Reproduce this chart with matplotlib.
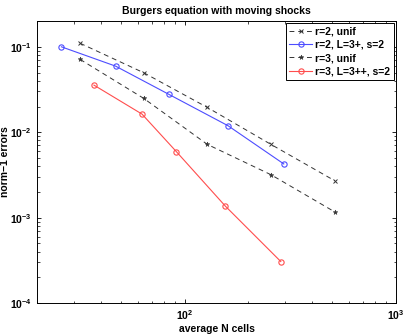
import matplotlib
matplotlib.use('Agg')
import matplotlib.pyplot as plt
import numpy as np

plt.rcParams['font.family'] = ['Liberation Sans', 'DejaVu Sans']
plt.rcParams['font.weight'] = 'bold'
plt.rcParams['mathtext.default'] = 'regular'

# Data
n_unif = [32, 64, 128, 256, 512]
err_r2_unif = [0.11, 0.0497, 0.0195, 0.0072, 0.00271]
err_r3_unif = [0.0712, 0.0249, 0.0072, 0.00318, 0.00117]

n_r2_amr = [26.1, 47.1, 84.3, 160.5, 294.5]
err_r2_amr = [0.1, 0.0594, 0.0277, 0.0119, 0.00425]

n_r3_amr = [37.2, 62.8, 91.4, 155.9, 285]
err_r3_amr = [0.0356, 0.0163, 0.00591, 0.00136, 0.000306]

labels = ['r=2, unif', 'r=2, L=3+, s=2', 'r=3, unif', 'r=3, L=3++, s=2']

fig = plt.figure(figsize=(4.07, 3.34), dpi=100)
ax = fig.add_axes([0.0909, 0.0928, 0.882, 0.844])

ax.loglog(n_unif, err_r2_unif, color='#333333', linestyle=(0, (5, 4)), linewidth=0.7,
          marker='x', markersize=3, markeredgewidth=0.7, label=labels[0])
ax.loglog(n_r2_amr, err_r2_amr, color='#4d4dff', linestyle='-', linewidth=0.8,
          marker='o', markersize=3.8, markerfacecolor='none', markeredgewidth=0.8, label=labels[1])
ax.loglog(n_unif, err_r3_unif, color='#333333', linestyle=(0, (5, 4)), linewidth=0.7,
          marker='*', markersize=3.5, markeredgewidth=0.4, label=labels[2])
ax.loglog(n_r3_amr, err_r3_amr, color='#ff4d4d', linestyle='-', linewidth=0.8,
          marker='o', markersize=3.8, markerfacecolor='none', markeredgewidth=0.8, label=labels[3])

ax.set_xlim(20, 1000)
ax.set_ylim(1e-4, 0.2)

ax.tick_params(which='both', direction='in', top=True, right=True, labelsize=7.5)
ax.tick_params(which='major', length=3, width=0.6)
ax.tick_params(which='minor', length=1.8, width=0.5)
for s in ax.spines.values():
    s.set_linewidth(0.7)

ax.set_title('Burgers equation with moving shocks', fontsize=7.5, fontweight='bold', pad=5)
ax.set_xlabel('average N cells', fontsize=7.5, fontweight='bold', labelpad=2)
ax.set_ylabel('norm\u22121 errors', fontsize=7.5, fontweight='bold')
ax.yaxis.set_label_coords(-0.075, 0.5)

leg = ax.legend(loc='upper right', fontsize=7.5, fancybox=False, edgecolor='black',
                framealpha=1, borderpad=0.35, labelspacing=0.3, handlelength=2.2,
                handletextpad=0.3, borderaxespad=0.2)
leg.get_frame().set_linewidth(0.7)

fig.savefig('out.png', dpi=100)
